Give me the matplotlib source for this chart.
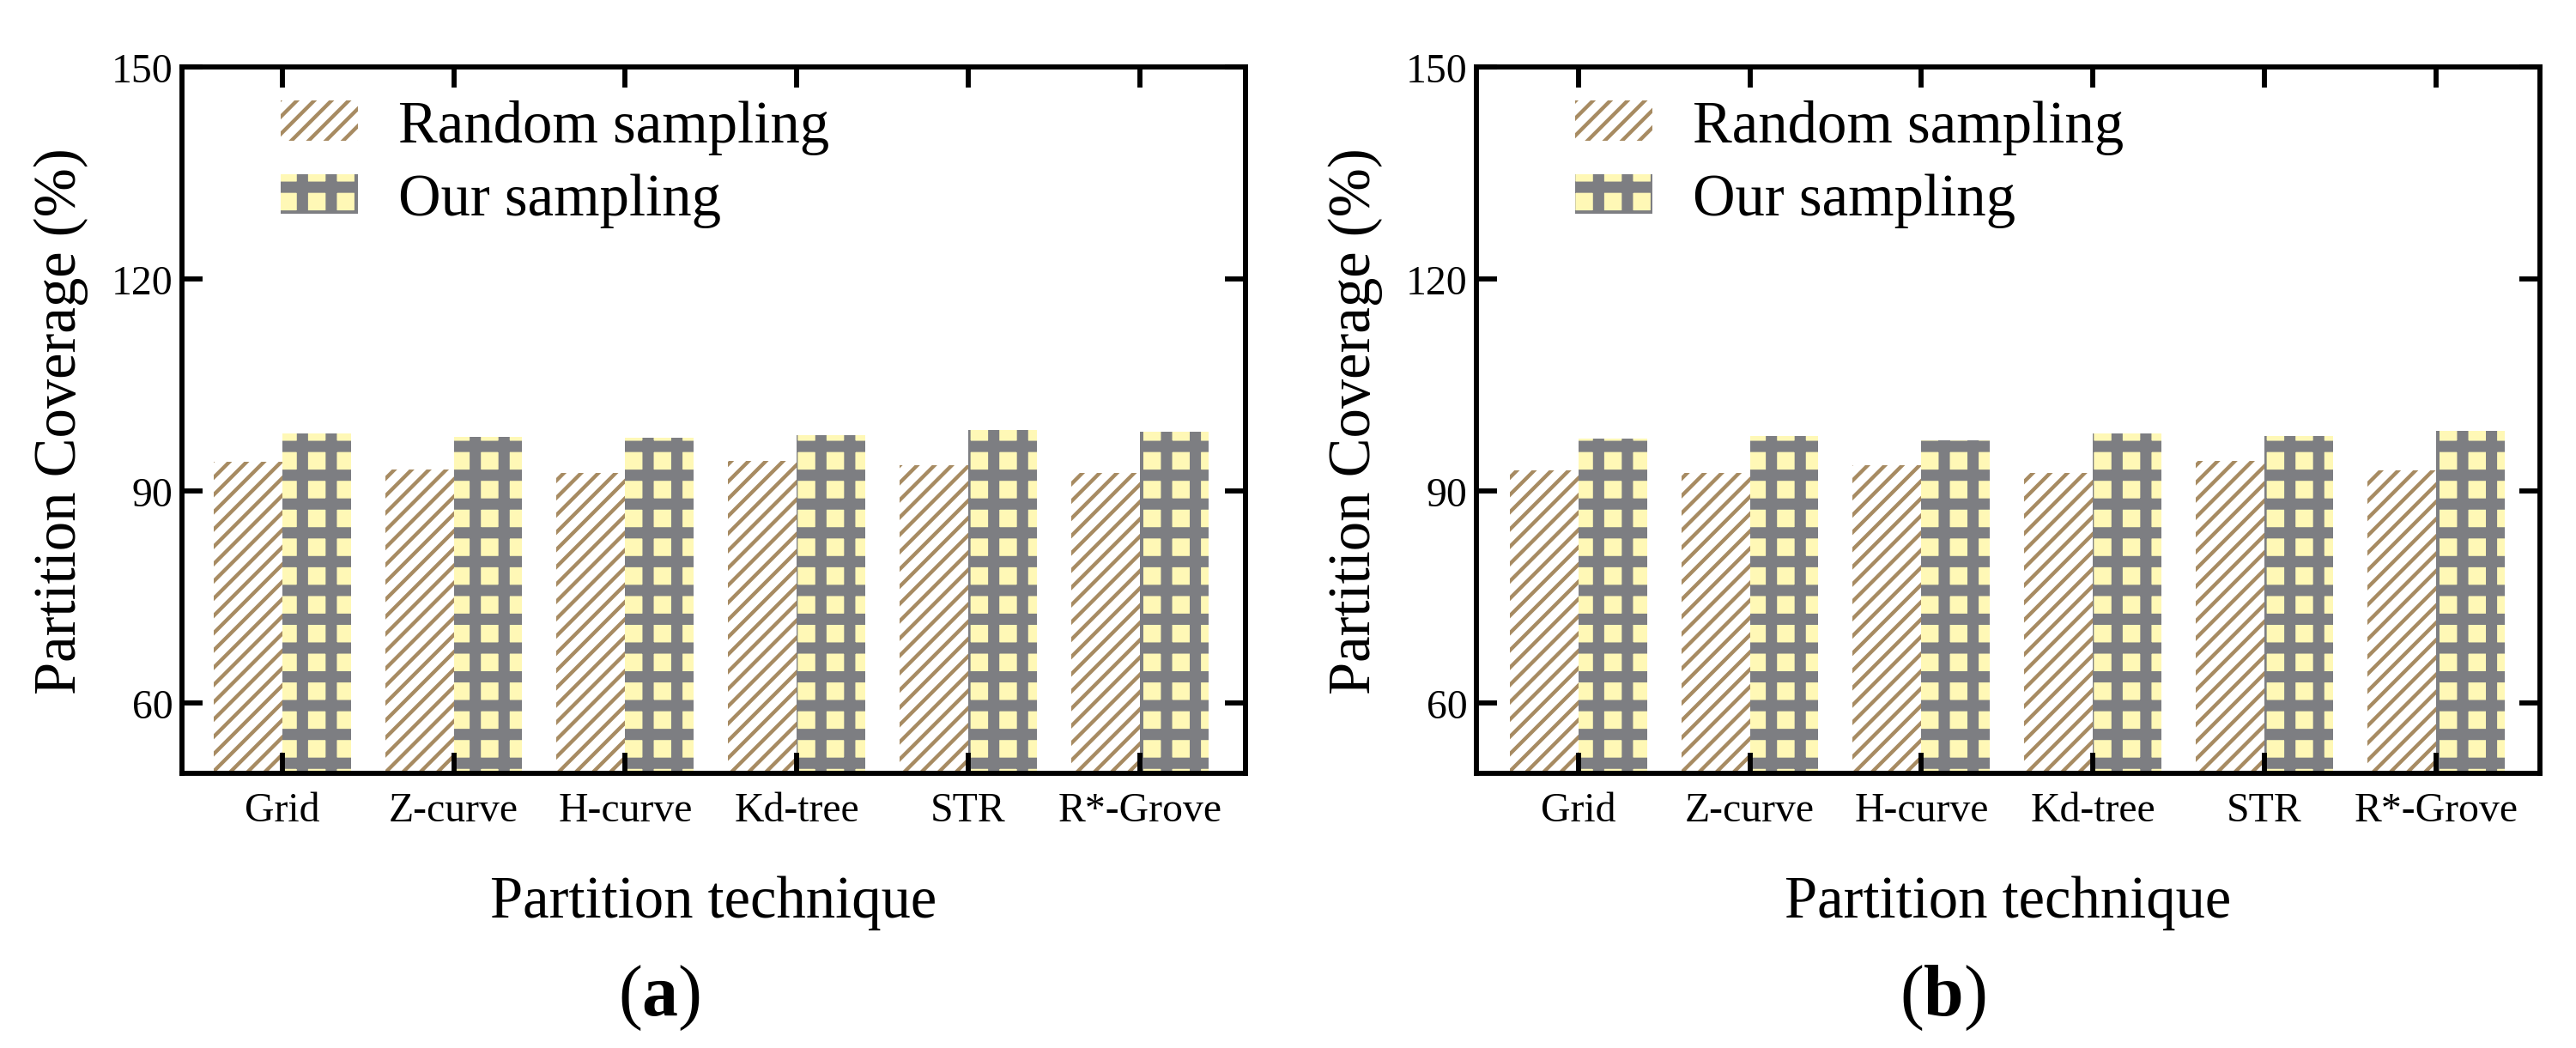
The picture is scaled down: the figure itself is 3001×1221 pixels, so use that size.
import matplotlib
matplotlib.use('Agg')
import numpy as np
from matplotlib import pyplot as plt

techniques = ['Grid', 'Z-curve', 'H-curve', 'Kd-tree', 'STR', 'R*-Grove']
random_a = [94.1, 93.0, 92.6, 94.2, 93.7, 92.5]
ours_a = [98.1, 97.7, 97.5, 97.9, 98.6, 98.4]
random_b = [92.9, 92.5, 93.6, 92.6, 94.3, 92.9]
ours_b = [97.4, 97.8, 97.2, 98.1, 97.8, 98.5]
y_ticks = [60, 90, 120, 150]
panel_tags = ['a', 'b']

brown = '#a78b62'
grey = '#7d7e82'
yellow = '#fff8b6'

# dpi picked so the hatch grid (tile = dpi px) lands with yellow at the bar edges
dpi = 604
plt.rcParams['font.family'] = 'Liberation Serif'
plt.rcParams['mathtext.fontset'] = 'custom'
plt.rcParams['mathtext.rm'] = 'Liberation Serif'
plt.rcParams['mathtext.bf'] = 'Liberation Serif:bold'


def hatched_bar(ax, x, h, hatch, fc, hc, hlw, label):
    with plt.rc_context({'hatch.linewidth': hlw}):
        bars = ax.bar(x, h, 0.4, color=fc, edgecolor=hc, linewidth=0,
                      hatch=hatch, label=label)
    for p in bars:
        if hasattr(p, 'set_hatch_linewidth'):
            p.set_hatch_linewidth(hlw)
    return bars


fig = plt.figure(figsize=(3001 / dpi, 1222 / dpi), dpi=dpi)
lefts = [0.0706, 0.5731]
x_shift = [-0.015, -0.005]
tag_x = [0.256, 0.7542]
x = np.arange(len(techniques))

for left, dx, tx, tag, rnd, ours in zip(lefts, x_shift, tag_x, panel_tags,
                                         [random_a, random_b], [ours_a, ours_b]):
    ax = fig.add_axes([left, 0.2616, 0.4128, 0.6738])
    hatched_bar(ax, x - 0.2, rnd, '//////////', 'white', brown, 0.52, 'Random sampling')
    hatched_bar(ax, x + 0.2, ours, '+++', yellow, grey, 1.56, 'Our sampling')

    ax.set_xlim(-0.6 - dx, 5.6 - dx)
    ax.set_ylim(50, 150)
    ax.set_yticks(y_ticks)
    ax.set_xticks(x, techniques)
    ax.minorticks_off()
    for s in ax.spines.values():
        s.set_linewidth(0.7)
    ax.tick_params(direction='in', top=True, right=True, length=2.9,
                   width=0.7, labelsize=5.7)
    ax.tick_params(axis='x', pad=2.5)
    ax.tick_params(axis='y', pad=1.2)

    ax.set_xlabel('Partition technique', fontsize=8.2)
    ax.xaxis.set_label_coords(0.5, -0.143)
    ax.set_ylabel('Partition Coverage (%)', fontsize=8.2)
    ax.yaxis.set_label_coords(-0.088, 0.5)

    leg = ax.legend(loc='upper left', bbox_to_anchor=(0.0932, 0.954),
                    frameon=False, fontsize=8.2, borderpad=0, borderaxespad=0,
                    handlelength=1.31, handleheight=0.66, handletextpad=0.68,
                    labelspacing=0.32)
    for hnd, lw in zip(leg.legend_handles, [0.52, 1.56]):
        if hasattr(hnd, 'set_hatch_linewidth'):
            hnd.set_hatch_linewidth(lw)

    fig.text(tx, 0.0483, r'($\mathbf{%s}$)' % tag, ha='center', va='center',
             fontsize=10)

fig.savefig('out.png', dpi=dpi)
